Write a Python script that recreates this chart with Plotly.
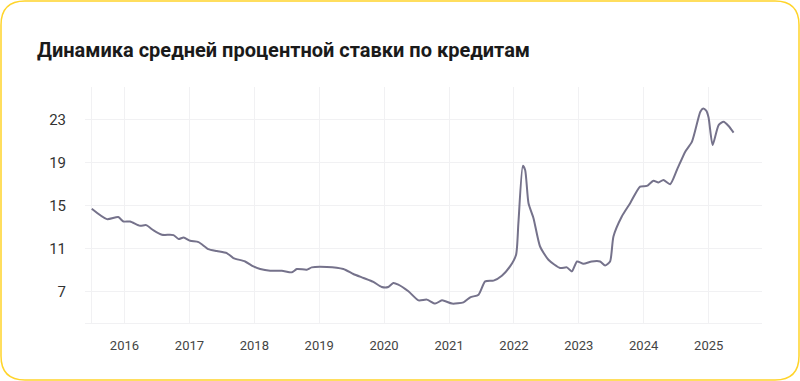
import plotly.graph_objects as go

# Data
dates = [
    "2015-07-01", "2015-09-24", "2015-11-27", "2015-12-26", "2016-02-02", "2016-03-29",
    "2016-05-02", "2016-06-13", "2016-07-30", "2016-10-03", "2016-11-01", "2016-11-29",
    "2017-01-05", "2017-02-21", "2017-04-17", "2017-06-04", "2017-07-30", "2017-09-05",
    "2017-11-10", "2017-12-27", "2018-02-03", "2018-03-31", "2018-06-05", "2018-07-31",
    "2018-08-28", "2018-10-23", "2018-11-20", "2019-02-13", "2019-05-17", "2019-07-12",
    "2019-09-07", "2019-11-02", "2019-12-19", "2020-01-25", "2020-02-22", "2020-03-21",
    "2020-05-17", "2020-07-13", "2020-08-29", "2020-10-15", "2020-11-22", "2021-01-18",
    "2021-03-23", "2021-04-30", "2021-06-16", "2021-07-23", "2021-09-08", "2021-10-25",
    "2021-12-10", "2022-01-13", "2022-01-26", "2022-02-20", "2022-03-05", "2022-03-24",
    "2022-04-21", "2022-05-28", "2022-07-14", "2022-09-18", "2022-10-26", "2022-11-23",
    "2022-12-22", "2023-01-27", "2023-03-15", "2023-05-01", "2023-05-29", "2023-06-26",
    "2023-07-15", "2023-08-31", "2023-10-17", "2023-12-12", "2024-01-19", "2024-02-25",
    "2024-03-24", "2024-04-21", "2024-05-29", "2024-07-06", "2024-08-22", "2024-09-29",
    "2024-11-15", "2024-12-01", "2024-12-18", "2024-12-31", "2025-01-23", "2025-02-26",
    "2025-03-26", "2025-04-23", "2025-05-21",
]
rates = [
    14.7, 13.74, 13.93, 13.52, 13.52, 13.12,
    13.18, 12.69, 12.29, 12.26, 11.89, 12.04,
    11.73, 11.61, 10.96, 10.78, 10.59, 10.13,
    9.81, 9.35, 9.11, 8.95, 8.95, 8.80,
    9.11, 9.05, 9.26, 9.3, 9.11, 8.65,
    8.28, 7.91, 7.44, 7.44, 7.81, 7.66,
    7.04, 6.2, 6.27, 5.9, 6.2, 5.9,
    6.02, 6.48, 6.73, 7.96, 8.03, 8.49,
    9.35, 10.44, 13.37, 18.68, 18.3, 15.22,
    13.83, 11.2, 9.97, 9.2, 9.26, 8.89,
    9.81, 9.6, 9.81, 9.81, 9.44, 9.81,
    12.13, 13.98, 15.22, 16.76, 16.82, 17.31,
    17.13, 17.38, 16.98, 18.3, 20.0, 20.93,
    23.7, 24.0, 23.8, 23.2, 20.62, 22.47,
    22.78, 22.38, 21.76,
]
x_tickvals = ["2015-07-01", "2016-01-01", "2017-01-01", "2018-01-01", "2019-01-01", "2020-01-01",
              "2021-01-01", "2022-01-01", "2023-01-01", "2024-01-01", "2025-01-01"]
x_ticktext = ["", "2016", "2017", "2018", "2019", "2020", "2021", "2022", "2023", "2024", "2025"]
y_tickvals = [7, 11, 15, 19, 23]

title = "Динамика средней процентной ставки по кредитам"

W, H = 800, 381
L, R, T, B = 85, 38, 87, 58

fig = go.Figure()
fig.add_trace(go.Scatter(
    x=dates, y=rates, mode="lines",
    line=dict(color="#75728b", width=2, shape="spline", smoothing=0.6),
    hoverinfo="skip",
))

# rounded card border (pixel coordinates relative to plot bottom-left)
def P(px, py):
    return f"{px - L},{(H - B) - py}"

x0, y0, x1, y1, r = 1, 1, 799, 380, 24
path = (f"M{P(x0 + r, y0)} L{P(x1 - r, y0)} Q{P(x1, y0)} {P(x1, y0 + r)} "
        f"L{P(x1, y1 - r)} Q{P(x1, y1)} {P(x1 - r, y1)} "
        f"L{P(x0 + r, y1)} Q{P(x0, y1)} {P(x0, y1 - r)} "
        f"L{P(x0, y0 + r)} Q{P(x0, y0)} {P(x0 + r, y0)} Z")
fig.add_shape(type="path", path=path, xref="paper", yref="paper",
              xsizemode="pixel", ysizemode="pixel", xanchor=0, yanchor=0,
              line=dict(color="#FFD42A", width=1.5), fillcolor="rgba(0,0,0,0)", layer="below")

fig.update_layout(
    width=W, height=H,
    margin=dict(l=L, r=R, t=T, b=B),
    paper_bgcolor="white", plot_bgcolor="white",
    showlegend=False,
    title=dict(text=title, x=37 / W, xanchor="left", xref="container",
               y=1 - 50 / H, yanchor="middle", yref="container",
               font=dict(family="Roboto", size=20, color="#1a1a1a", weight=700)),
    font=dict(family="Roboto"),
)
fig.update_xaxes(
    type="date", range=["2015-05-24", "2025-10-28"],
    tickmode="array", tickvals=x_tickvals, ticktext=x_ticktext,
    showgrid=True, gridcolor="#f1f1f3", gridwidth=1,
    zeroline=False, showline=True, linecolor="#f1f1f3", linewidth=1,
    ticks="", ticklabelstandoff=10,
    tickfont=dict(family="Roboto", size=13, color="#444444"),
)
fig.update_yaxes(
    range=[4.1, 26], tickmode="array", tickvals=y_tickvals,
    showgrid=True, gridcolor="#f1f1f3", gridwidth=1,
    zeroline=False, showline=False, ticks="", ticklabelstandoff=18,
    tickfont=dict(family="Roboto", size=15, color="#333333"),
)

fig.write_html("out.html")
